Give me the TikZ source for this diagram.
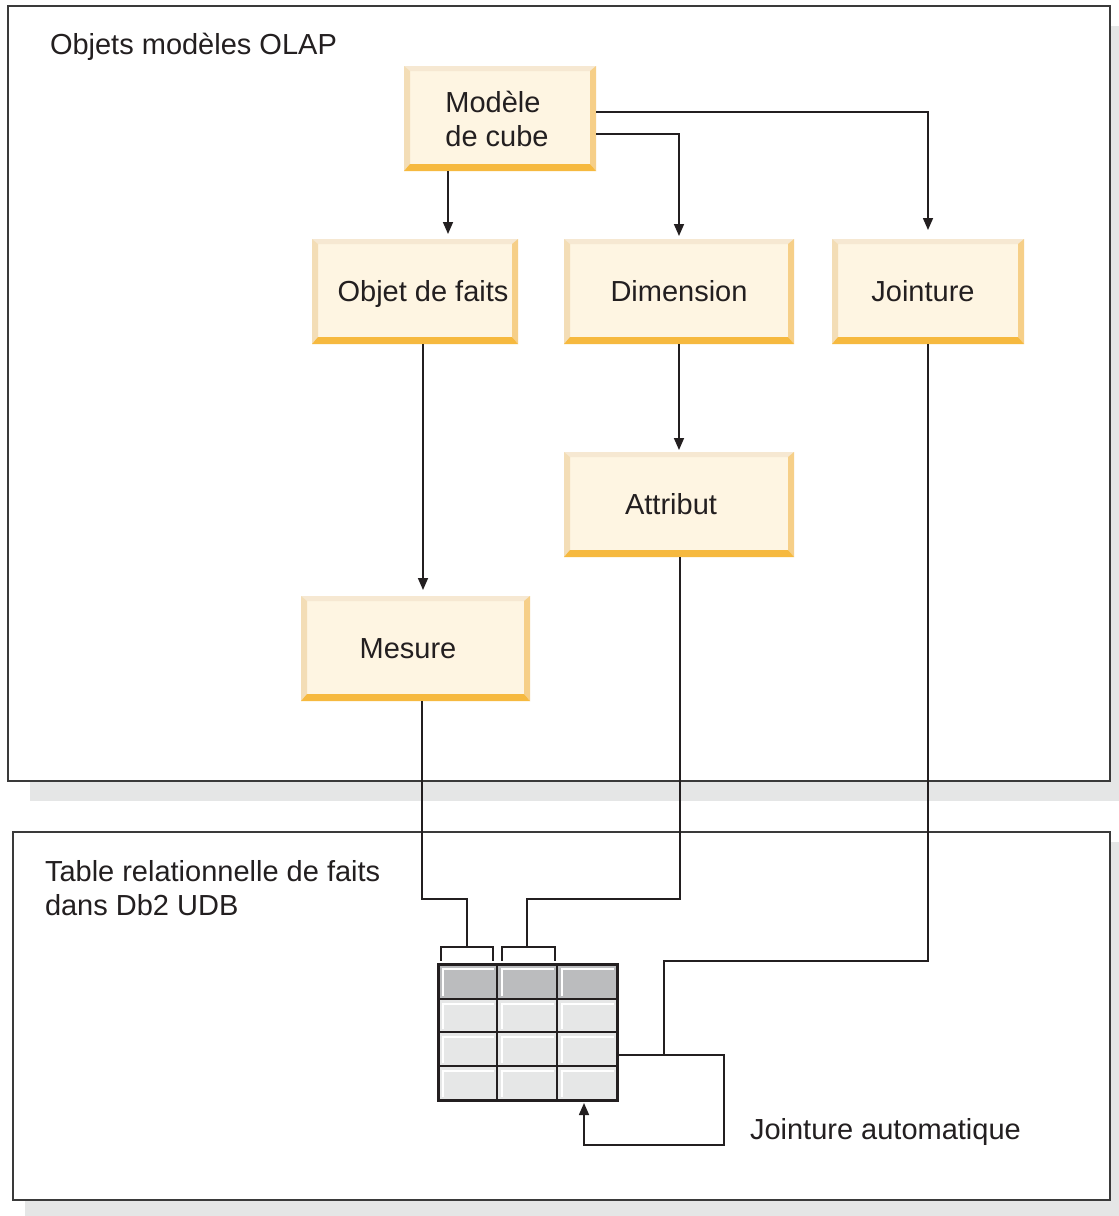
\documentclass[tikz,border=0pt]{standalone}
\usepackage{fontspec}
\setmainfont{Liberation Sans}
\usetikzlibrary{arrows.meta,calc}

\definecolor{ink}{HTML}{231F20}
\definecolor{frame}{HTML}{3A3A3A}
\definecolor{dropgray}{HTML}{E5E6E6}
\definecolor{boxfill}{HTML}{FEF5E2}
\definecolor{bevtop}{HTML}{F6E8D2}
\definecolor{bevleft}{HTML}{F3DDB6}
\definecolor{bevright}{HTML}{F6CF88}
\definecolor{bevbottom}{HTML}{F6B93F}
\definecolor{cellhead}{HTML}{BBBCBE}
\definecolor{cellbody}{HTML}{E6E7E7}

\tikzset{
  txt/.style={font=\fontsize{29}{34}\selectfont, text=ink, inner sep=0pt, outer sep=0pt},
  obj/.style={rectangle, inner sep=0pt, outer sep=0pt, fill=boxfill,
    font=\fontsize{29}{34}\selectfont, text=ink,
    path picture={
      \fill[bevtop] (path picture bounding box.north west) -- (path picture bounding box.north east)
        -- ([xshift=-6pt,yshift=-5pt]path picture bounding box.north east)
        -- ([xshift=6pt,yshift=-5pt]path picture bounding box.north west) -- cycle;
      \fill[bevleft] (path picture bounding box.north west)
        -- ([xshift=6pt,yshift=-5pt]path picture bounding box.north west)
        -- ([xshift=6pt,yshift=7pt]path picture bounding box.south west)
        -- (path picture bounding box.south west) -- cycle;
      \fill[bevright] (path picture bounding box.north east)
        -- ([xshift=-6pt,yshift=-5pt]path picture bounding box.north east)
        -- ([xshift=-6pt,yshift=7pt]path picture bounding box.south east)
        -- (path picture bounding box.south east) -- cycle;
      \fill[bevbottom] (path picture bounding box.south west)
        -- ([xshift=6pt,yshift=7pt]path picture bounding box.south west)
        -- ([xshift=-6pt,yshift=7pt]path picture bounding box.south east)
        -- (path picture bounding box.south east) -- cycle;
    }},
  frm/.style={rectangle, draw=frame, line width=1.5pt, fill=white, inner sep=0pt, outer sep=0pt},
  wire/.style={draw=ink, line width=1.6pt},
  arr/.style={wire, -{Triangle[length=12pt,width=10pt]}},
}

\begin{document}
\begin{tikzpicture}[x=1pt,y=-1pt]
  \useasboundingbox (0,0) rectangle (1119,1216);

  % drop shadows of the two panels
  \begin{scope}
    \clip (0,0) rectangle (1119,1216);
    \fill[dropgray] (30,26) rectangle (1130,801);
    \fill[dropgray] (25,842) rectangle (1130,1230);
  \end{scope}

  % panels
  \node[frm, minimum width=1102pt, minimum height=775pt] (olap) at (559,393.5) {};
  \node[frm, minimum width=1097pt, minimum height=368pt] (rel) at (561.5,1016) {};

  \node[txt, anchor=base west] (olaptitle) at (50,54.5) {Objets modèles OLAP};
  \node[txt, anchor=base west, align=left] (reltitle) at (45,915) {Table relationnelle de faits\\dans Db2 UDB};
  \node[txt, anchor=base west] (autolabel) at (750,1139) {Jointure automatique};

  % OLAP objects
  \node[obj, minimum width=192pt, minimum height=105pt, align=left] (cube) at (500,118.5) {Modèle\\de cube\kern6pt};
  \node[obj, minimum width=206pt, minimum height=105pt, text height=20.8pt, text depth=0pt] (fact) at (415,291.5) {\kern16pt Objet de faits};
  \node[obj, minimum width=230pt, minimum height=105pt, text height=20.8pt, text depth=0pt] (dim) at (679,291.5) {Dimension};
  \node[obj, minimum width=192pt, minimum height=105pt, text height=20.8pt, text depth=0pt] (join) at (928,291.5) {Jointure\kern10pt};
  \node[obj, minimum width=230pt, minimum height=105pt, text height=20.8pt, text depth=0pt] (attr) at (679,504.5) {Attribut\kern16pt};
  \node[obj, minimum width=229pt, minimum height=105pt, text height=20.8pt, text depth=0pt] (mes) at (415.5,648.5) {Mesure\kern15pt};

  % relational table
  \node[inner sep=0pt, outer sep=0pt, minimum width=179pt, minimum height=136pt] (tbl) at (527.5,1032) {};
  \foreach \xa/\xb in {438/497,497/557,557/617}{
    \foreach \ya/\yb/\c in {964/999/cellhead,999/1032/cellbody,1032/1066/cellbody,1066/1100/cellbody}{
      \fill[\c] (\xa,\ya) rectangle (\xb,\yb);
      \draw[white, line width=1.5pt] ({\xa+5},{\yb-3}) -- ({\xa+5},{\ya+5}) -- ({\xb-3},{\ya+5});
    }
  }
  \draw[ink, line width=1.3pt] (497,964) -- (497,1100) (557,964) -- (557,1100)
    (438,999) -- (617,999) (438,1032) -- (617,1032) (438,1066) -- (617,1066);
  \draw[ink, line width=3pt] (tbl.north west) rectangle (tbl.south east);

  % column brackets
  \coordinate (b1) at (467,947);
  \coordinate (b2) at (527,947);
  \draw[wire] (441,960.5) -- (441,947) -- (493,947) -- (493,960.5);
  \draw[wire] (502,960.5) -- (502,947) -- (555,947) -- (555,960.5);

  % connectors between the model objects
  \draw[arr] ([xshift=-52pt]cube.south) -- ([xshift=33pt,yshift=5pt]fact.north);
  \draw[arr] ([yshift=-15.5pt]cube.east) -| ([yshift=3pt]dim.north);
  \draw[arr] ([yshift=6.5pt]cube.east) -| ([yshift=9pt]join.north);
  \draw[arr] ([xshift=8pt]fact.south) -- ([xshift=7.5pt,yshift=6pt]mes.north);
  \draw[arr] (dim.south) -- ([yshift=2pt]attr.north);

  % mappings onto the table
  \coordinate (jt) at ([xshift=47pt,yshift=-23pt]tbl.east);
  \draw[wire] ([xshift=6.5pt]mes.south) |- ([yshift=48pt]b1) -- (b1);
  \draw[wire] ([xshift=1pt]attr.south) |- ([yshift=48pt]b2) -- (b2);
  \draw[wire] (join.south) |- ([yshift=94pt]jt) -- (jt);
  \draw[arr] ([yshift=-23pt]tbl.east) -- ++(107pt,0pt) -- ++(0pt,-90pt)
    -| ([xshift=56.5pt,yshift=-3pt]tbl.south);
\end{tikzpicture}
\end{document}
